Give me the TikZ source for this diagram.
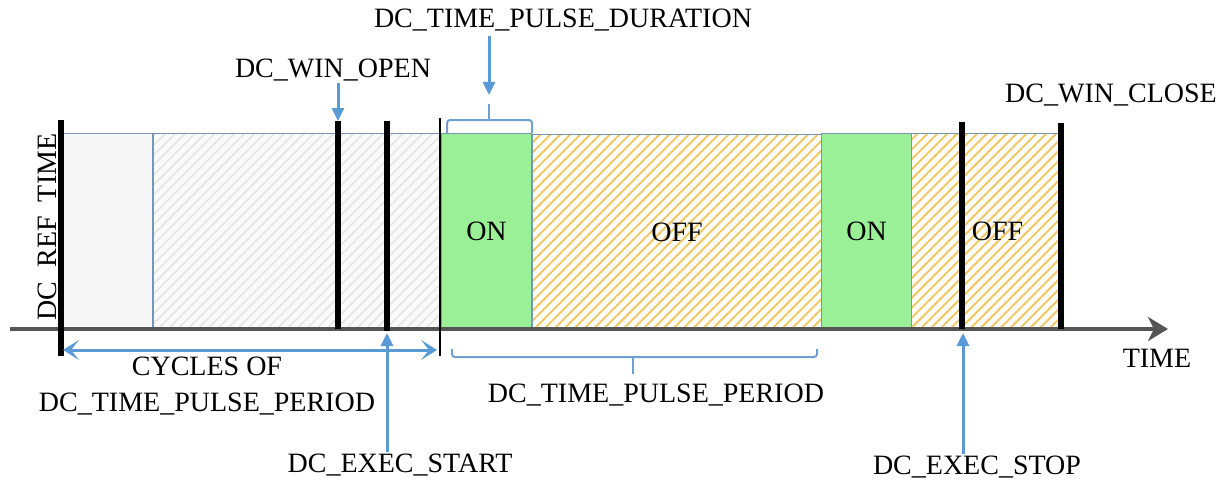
\documentclass[tikz,border=0pt]{standalone}
\usepackage{fontspec}
\setmainfont{Liberation Serif}
\usetikzlibrary{arrows.meta,patterns.meta}
\definecolor{onG}{RGB}{153,240,150}
\definecolor{hatchY}{RGB}{240,200,100}
\definecolor{hatchG}{RGB}{228,228,228}
\definecolor{edgeB}{RGB}{120,150,180}
\definecolor{arrB}{RGB}{91,155,213}
\definecolor{braceB}{RGB}{110,160,210}
\definecolor{axisG}{RGB}{85,85,85}
\begin{document}
\begin{tikzpicture}[x=1pt,y=-1pt,font=\fontsize{28}{36}\selectfont,
  box/.style={draw=edgeB,line width=1pt,anchor=north west,inner sep=0pt,minimum height=196},
  onbox/.style={box,fill=onG},
  offbox/.style={box,preaction={fill=white},pattern={Lines[angle=45,distance=7pt,line width=2pt]},pattern color=hatchY},
  greybox/.style={box,fill=black!3},
  greyhatch/.style={box,preaction={fill=black!2},pattern={Lines[angle=45,distance=7pt,line width=1.5pt]},pattern color=hatchG},
  bar/.style={line width=5.5pt,black},
  thinbar/.style={line width=2.5pt,black},
  axis/.style={line width=4pt,axisG,-{Stealth[length=20pt,width=24pt,inset=6pt]}},
  barrow/.style={line width=3pt,arrB,-{Triangle[length=13pt,width=12pt]}},
  darrow/.style={line width=3pt,arrB,{Stealth[length=16pt,width=20pt,inset=8pt]}-{Stealth[length=16pt,width=20pt,inset=8pt]}},
  brace/.style={line width=2pt,braceB,rounded corners=3pt},
  lbl/.style={inner sep=2pt}
]
\useasboundingbox (0,0) rectangle (1232,487);

% boxes
\node[greybox,minimum width=91] (g1) at (61,133) {};
\node[greyhatch,minimum width=287] (g2) at (153,133) {};
\node[onbox,minimum width=90] (on1) at (441,133) {ON};
\node[offbox,minimum width=290] (off1) at (531,133) {OFF};
\node[onbox,minimum width=90] (on2) at (821,133) {ON};
\node[offbox,minimum width=150] (off2) at (911,133) {\hspace*{22pt}OFF};

% rotated label (drawn before the bar, which hides its underscores)
\node[inner sep=0pt,rotate=90,anchor=base] (ref) at (56,227) {DC\_REF\_TIME};

% axis
\coordinate (ax0) at (10,329);
\coordinate (ax1) at (1168,329);
\draw[axis] (ax0) -- (ax1);

% bars
\coordinate (lbT) at (61,120); \coordinate (lbB) at (61,356);
\coordinate (woT) at (338,121); \coordinate (woB) at (338,329);
\coordinate (esT) at (387,121); \coordinate (esB) at (387,331);
\coordinate (thT) at (440,118); \coordinate (thB) at (440,356);
\coordinate (stT) at (962,122); \coordinate (stB) at (962,329);
\coordinate (clT) at (1061,123); \coordinate (clB) at (1061,329);
\draw[bar] (lbT) -- (lbB);
\draw[bar] (woT) -- (woB);
\draw[bar] (esT) -- (esB);
\draw[thinbar] (thT) -- (thB);
\draw[bar] (stT) -- (stB);
\draw[bar] (clT) -- (clB);

% top labels
\node[lbl] (dur) at (563,20) {DC\_TIME\_PULSE\_DURATION};
\coordinate (durTop) at (489,36);
\coordinate (durTip) at (489,95);
\draw[barrow] (durTop) -- (durTip);
\coordinate (brL0) at (447,133); \coordinate (brL1) at (447,120);
\coordinate (brR1) at (532,120); \coordinate (brR0) at (532,133);
\coordinate (brM) at (489,120); \coordinate (brMt) at (489,104);
\draw[brace] (brL0) -- (brL1) -- (brR1) -- (brR0);
\draw[brace] (brM) -- (brMt);

\node[lbl] (wopen) at (333,70) {DC\_WIN\_OPEN};
\draw[barrow] (wopen.south -| woT) -- (woT);

\node[lbl] (wclose) at (1111,95) {DC\_WIN\_CLOSE};

% cycles
\coordinate (cycL) at (63,350); \coordinate (cycR) at (437,350);
\draw[darrow] (cycL) -- (cycR);
\node[lbl,align=center] (cyc) at (207,386) {CYCLES OF\\DC\_TIME\_PULSE\_PERIOD};

% exec start
\node[lbl] (estart) at (400,465) {DC\_EXEC\_START};
\coordinate (esTip) at (387,333);
\draw[barrow] (estart.north -| esTip) -- (esTip);

% period brace
\coordinate (pbL0) at (452,349); \coordinate (pbL1) at (452,357);
\coordinate (pbR1) at (817,357); \coordinate (pbR0) at (817,349);
\coordinate (pbM) at (633,357); \coordinate (pbMt) at (633,374);
\draw[brace] (pbL0) -- (pbL1) -- (pbR1) -- (pbR0);
\draw[brace] (pbM) -- (pbMt);
\node[lbl] (period) at (656,395) {DC\_TIME\_PULSE\_PERIOD};

\node[lbl] (time) at (1157,358) {TIME};

% exec stop
\node[lbl] (estop) at (977,467) {DC\_EXEC\_STOP};
\coordinate (stTip) at (963,333);
\draw[barrow] (estop.north -| stTip) -- (stTip);
\end{tikzpicture}
\end{document}
